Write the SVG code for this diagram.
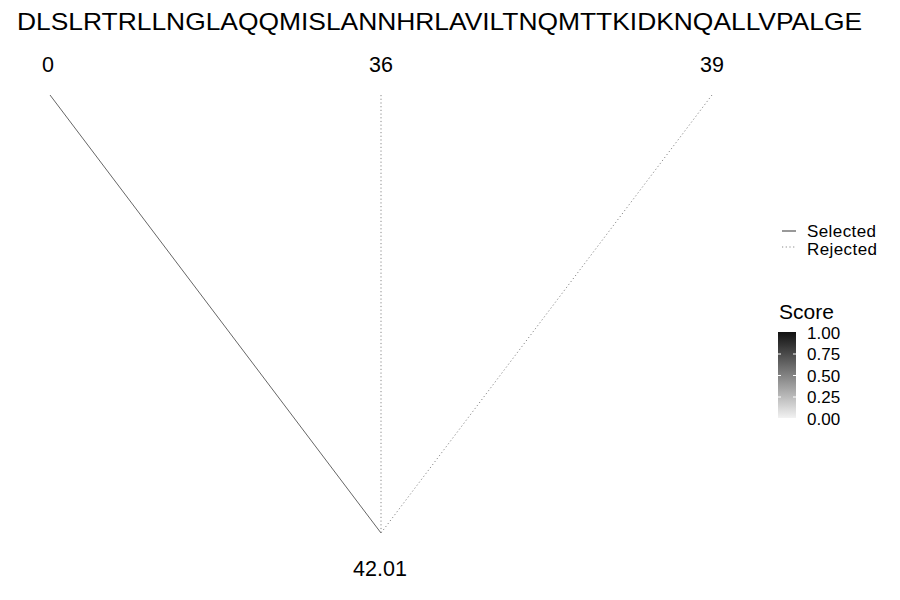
<svg xmlns="http://www.w3.org/2000/svg" width="900" height="600" viewBox="0 0 900 600">
<defs>
<linearGradient id="sg" x1="0" y1="0" x2="0" y2="1">
<stop offset="0" stop-color="#111111"/>
<stop offset="1" stop-color="#f2f2f2"/>
</linearGradient>
</defs>
<style>
text{font-family:"Liberation Sans",Arial,sans-serif;fill:#000}
.sel{stroke:#666;stroke-width:1;fill:none}
.rej{stroke:#888;stroke-width:1;fill:none;stroke-dasharray:1.2 2.5}
.lbl{font-size:21.5px;text-anchor:middle}
.leg{font-size:17px}
.tick{stroke:#fff;stroke-width:1}
</style>
<rect width="900" height="600" fill="#fff"/>
<text x="17" y="30" font-size="24" textLength="845" lengthAdjust="spacingAndGlyphs">DLSLRTRLLNGLAQQMISLANNHRLAVILTNQMTTKIDKNQALLVPALGE</text>
<g id="connectors">
<line class="sel" x1="50" y1="95" x2="381" y2="533"/>
<line class="rej" x1="381" y1="95" x2="381" y2="533"/>
<line class="rej" x1="712" y1="95" x2="381" y2="533"/>
</g>
<g id="n0"><text class="lbl" x="48" y="72">0</text></g>
<g id="n36"><text class="lbl" x="381" y="72">36</text></g>
<g id="n39"><text class="lbl" x="712" y="72">39</text></g>
<g id="n42"><text class="lbl" x="380" y="576">42.01</text></g>
<g id="legend">
<line stroke="#555" stroke-width="1.2" x1="782" y1="231" x2="796" y2="231"/>
<line class="rej" x1="782" y1="247" x2="796" y2="247"/>
<text class="leg" x="807" y="237" textLength="69">Selected</text>
<text class="leg" x="807" y="254.5" textLength="70">Rejected</text>
<text x="779" y="319" font-size="21">Score</text>
<rect x="778" y="332" width="18" height="86" fill="url(#sg)"/>
<line class="tick" x1="778" y1="354" x2="781" y2="354"/><line class="tick" x1="793" y1="354" x2="796" y2="354"/>
<line class="tick" x1="778" y1="375.5" x2="781" y2="375.5"/><line class="tick" x1="793" y1="375.5" x2="796" y2="375.5"/>
<line class="tick" x1="778" y1="397" x2="781" y2="397"/><line class="tick" x1="793" y1="397" x2="796" y2="397"/>
<text class="leg" x="807" y="338.5">1.00</text>
<text class="leg" x="807" y="360">0.75</text>
<text class="leg" x="807" y="381.5">0.50</text>
<text class="leg" x="807" y="403">0.25</text>
<text class="leg" x="807" y="424.5">0.00</text>
</g>
</svg>
